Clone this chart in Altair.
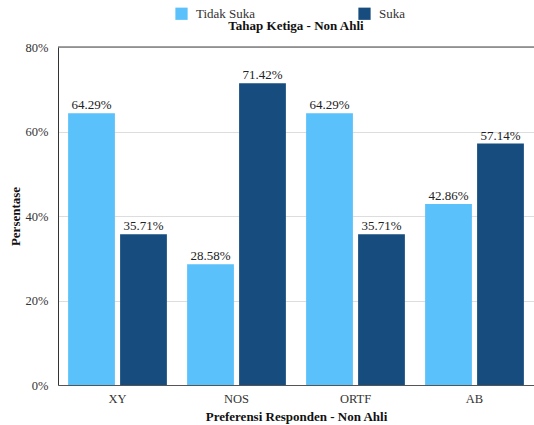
import altair as alt
import pandas as pd

categories = ["XY", "NOS", "ORTF", "AB"]
series = ["Tidak Suka", "Suka"]
tidak_suka = [64.29, 28.58, 64.29, 42.86]
suka = [35.71, 71.42, 35.71, 57.14]
colors = ["#5AC1FB", "#164D7E"]

rows = []
for i, c in enumerate(categories):
    rows.append({"kategori": c, "seri": series[0], "nilai": tidak_suka[i] / 100})
    rows.append({"kategori": c, "seri": series[1], "nilai": suka[i] / 100})
df = pd.DataFrame(rows)

FONT = "Liberation Serif"

x = alt.X("kategori:N", sort=categories,
          scale=alt.Scale(paddingInner=0.17, paddingOuter=0.085),
          axis=alt.Axis(title="Preferensi Responden - Non Ahli", labelAngle=0,
                        ticks=False, domainColor="#555", labelPadding=7,
                        titlePadding=6))
xo = alt.XOffset("seri:N", sort=series, scale=alt.Scale(paddingInner=0.1))
y = alt.Y("nilai:Q", scale=alt.Scale(domain=[0, 0.8]),
          axis=alt.Axis(title="Persentase", format=".0%", values=[0, 0.2, 0.4, 0.6, 0.8],
                        ticks=False, labelPadding=10, domainColor="#333",
                        gridColor="#dddddd", titlePadding=3))

bars = alt.Chart(df).mark_bar().encode(
    x=x, xOffset=xo, y=y,
    color=alt.Color("seri:N", sort=series,
                    scale=alt.Scale(domain=series, range=colors),
                    legend=alt.Legend(title=None, orient="none", direction="horizontal",
                                      legendX=117, legendY=-40, symbolType="square",
                                      symbolSize=150, symbolStrokeWidth=0,
                                      columnPadding=102, labelFontSize=13,
                                      labelFont=FONT, labelColor="#333",
                                      labelOffset=8)),
)

labels = alt.Chart(df).mark_text(dy=-8, fontSize=13, font=FONT, color="#222").encode(
    x=alt.X("kategori:N", sort=categories), xOffset=xo,
    y=alt.Y("nilai:Q"),
    text=alt.Text("nilai:Q", format=".2%"),
)

top_border = alt.Chart(pd.DataFrame({"v": [0.8]})).mark_rule(color="#444", strokeWidth=1.2).encode(
    y=alt.Y("v:Q")
)

chart = alt.layer(bars, labels, top_border).properties(
    width=476, height=338,
    title=alt.TitleParams("Tahap Ketiga - Non Ahli", font=FONT, fontSize=13,
                          fontWeight="bold", color="#111", offset=0, dy=26,
                          anchor="middle", frame="group"),
    autosize=alt.AutoSizeParams(type="none"),
    padding={"left": 58, "top": 47, "right": 0, "bottom": 40},
).configure(font=FONT).configure_view(stroke=None).configure_axis(
    labelFont=FONT, titleFont=FONT, labelFontSize=12.5, titleFontSize=13,
    labelColor="#333", titleColor="#111", titleFontWeight="bold",
).configure_legend(labelFont=FONT, labelFontSize=13).configure_title(font=FONT)

chart.save("out.html", embed_options={"renderer": "svg", "actions": False})
